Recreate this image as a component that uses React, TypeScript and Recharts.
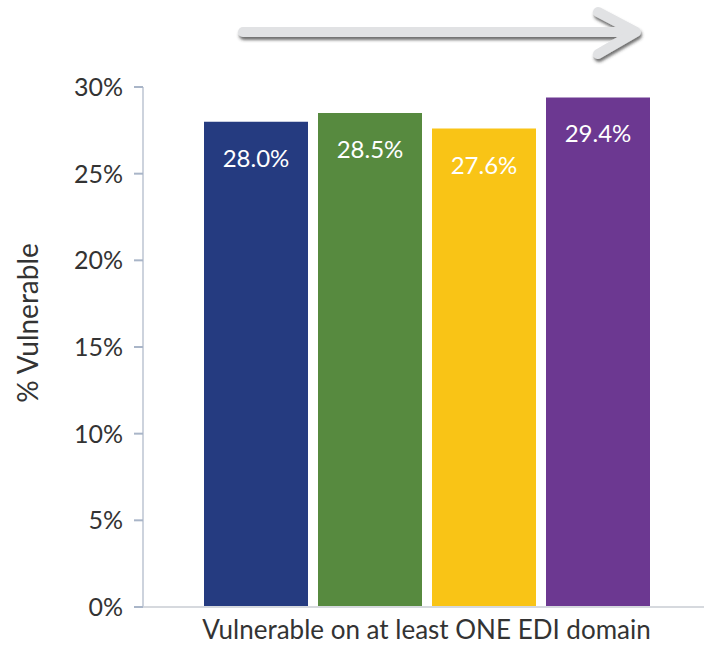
import { BarChart, Bar, XAxis, YAxis, LabelList } from "recharts";

const category = "Vulnerable on at least ONE EDI domain";
const seriesKeys = ["cohort1", "cohort2", "cohort3", "cohort4"];
const seriesValues = [28.0, 28.5, 27.6, 29.4];
const seriesColors = ["#253b80", "#578a3f", "#f9c416", "#6c3891"];
const yTicks = [0, 5, 10, 15, 20, 25, 30];

const row: Record<string, string | number> = { name: category };
seriesKeys.forEach((k, i) => {
  row[k] = seriesValues[i];
});
const data = [row];

const font = "Lato, 'Open Sans', sans-serif";

function TrendArrow() {
  return (
    <svg
      width={704}
      height={80}
      style={{ position: "absolute", left: 0, top: 0, pointerEvents: "none" }}
    >
      <defs>
        <filter id="arrowShadow" x="-10%" y="-50%" width="120%" height="200%">
          <feDropShadow dx="1" dy="3" stdDeviation="1.5" floodColor="#333" floodOpacity="0.7" />
        </filter>
      </defs>
      <g filter="url(#arrowShadow)" stroke="#e1e2e4" strokeWidth={10} fill="none" strokeLinecap="round" strokeLinejoin="round">
        <line x1={243} y1={32} x2={630} y2={32} />
        <polyline points="598,12 636,32 598,54" />
      </g>
    </svg>
  );
}

export default function App() {
  return (
    <div
      style={{
        position: "absolute",
        left: 0,
        top: 0,
        width: 704,
        height: 646,
        background: "#fff",
        fontFamily: font,
      }}
    >
      <BarChart
        width={704}
        height={646}
        data={data}
        margin={{ top: 87, right: 0, bottom: 0, left: 0 }}
        barGap={10}
      >
        <XAxis
          dataKey="name"
          height={39}
          padding={{ left: 6, right: 0 }}
          tickLine={false}
          tickSize={0}
          tickMargin={14}
          axisLine={{ stroke: "#d6d9de", strokeWidth: 2 }}
          tick={{ fill: "#333", fontSize: 26, fontFamily: font }}
        />
        <YAxis
          width={143}
          domain={[0, 30]}
          ticks={yTicks}
          interval={0}
          tickFormatter={(v: number) => `${v}%`}
          tickSize={9}
          tickMargin={11}
          axisLine={{ stroke: "#cdd3dd", strokeWidth: 2 }}
          tickLine={{ stroke: "#a9b5c8", strokeWidth: 2 }}
          tick={{ fill: "#333", fontSize: 25, fontFamily: font }}
          label={{
            value: "% Vulnerable",
            angle: -90,
            position: "insideLeft",
            offset: 28,
            dy: -24,
            style: { textAnchor: "middle", fill: "#333", fontSize: 28, fontFamily: font },
          }}
        />
        {seriesKeys.map((k, i) => (
          <Bar key={k} dataKey={k} fill={seriesColors[i]} barSize={104} isAnimationActive={false}>
            <LabelList
              dataKey={k}
              position="insideTop"
              offset={28}
              fill="#fff"
              fontSize={24}
              fontFamily={font}
              formatter={(v: any) => `${Number(v).toFixed(1)}%`}
            />
          </Bar>
        ))}
      </BarChart>
      <TrendArrow />
    </div>
  );
}
